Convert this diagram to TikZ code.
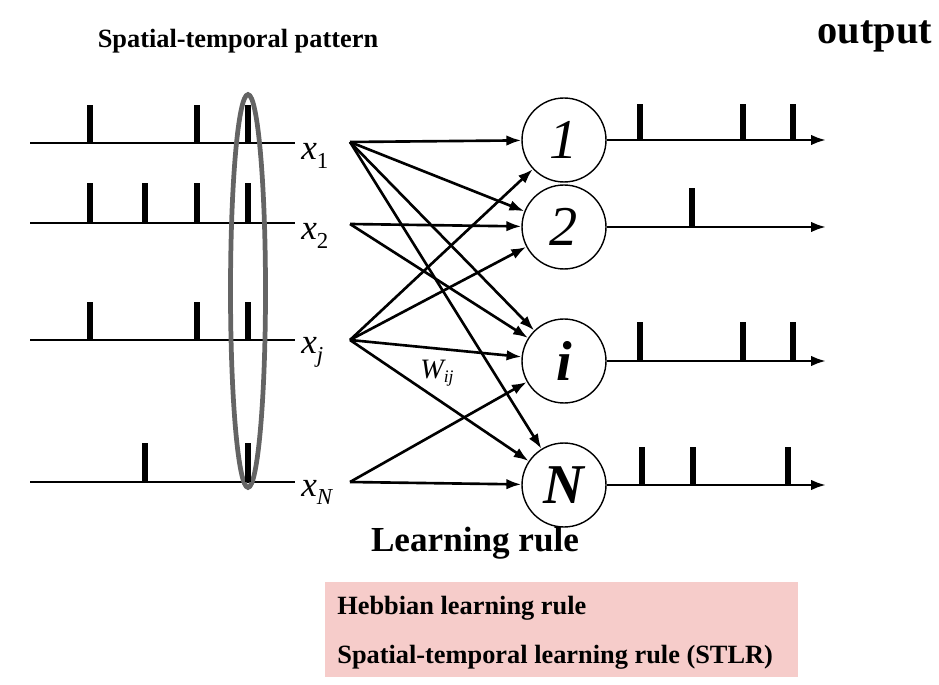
\documentclass[tikz,border=0pt]{standalone}
\usepackage{fontspec}
\setmainfont{Liberation Serif}
\usetikzlibrary{positioning,arrows.meta}
\definecolor{rulepink}{RGB}{246,204,202}
\definecolor{ringgray}{RGB}{100,100,100}
\tikzset{
  iline/.style  = {line width=1.5pt},
  spk/.style    = {line width=2.9pt},
  syn/.style    = {line width=1.5pt, -{Latex[length=8.5pt,width=6pt]}},
  oline/.style  = {line width=1.5pt, -{Latex[length=8.5pt,width=6pt]}},
  nrn/.style    = {circle, draw, line width=0.8pt, minimum size=1.68cm,
                   inner sep=0pt, font=\fontsize{32}{36}\selectfont\itshape},
  ring/.style   = {draw=ringgray, line width=2.7pt},
  xlbl/.style   = {anchor=base west, inner sep=0pt,
                   font=\fontsize{20}{24}\selectfont\itshape},
  ttl/.style    = {inner sep=0pt, font=\fontsize{15}{18}\selectfont\bfseries},
  otl/.style    = {inner sep=0pt, font=\fontsize{23}{28}\selectfont\bfseries},
  lrn/.style    = {inner sep=0pt, font=\fontsize{20}{24}\selectfont\bfseries},
  rbox/.style   = {fill=rulepink, inner sep=0pt, minimum width=9.46cm,
                   minimum height=1.9cm},
  rtxt/.style   = {anchor=west, inner sep=0pt,
                   font=\fontsize{15}{18}\selectfont\bfseries},
  wlbl/.style   = {inner sep=0pt, font=\fontsize{16}{18}\selectfont\itshape},
}
\newcommand{\xsub}[1]{x\raisebox{-0.55ex}{\fontsize{13}{14}\selectfont #1}}

\begin{document}
\begin{tikzpicture}[x=0.02cm, y=-0.02cm]
  \useasboundingbox (0,0) rectangle (939,685);
  % titles
  \node[ttl] (pat) at (238,41) {Spatial-temporal pattern};
  \node[otl] (out) at (875,36) {output};
  % input spike trains
  \coordinate (a1) at (30,143);  \coordinate (b1) at (295,143);
  \coordinate (a2) at (30,223);  \coordinate (b2) at (295,223);
  \coordinate (aj) at (30,340);  \coordinate (bj) at (295,340);
  \coordinate (aN) at (30,482);  \coordinate (bN) at (295,482);
  \draw[iline] (a1)--(b1) (a2)--(b2) (aj)--(bj) (aN)--(bN);
  \draw[ring] (248,291) ellipse [x radius=0.35cm, y radius=3.93cm];
  \draw[spk] (90,143)--++(0,-38) (197,143)--++(0,-38) (248,143)--++(0,-38);
  \draw[spk] (90,223)--++(0,-40) (145,223)--++(0,-40) (197,223)--++(0,-40)
             (248,223)--++(0,-40);
  \draw[spk] (90,340)--++(0,-38) (197,340)--++(0,-38) (248,340)--++(0,-38);
  \draw[spk] (145,482)--++(0,-39) (248,482)--++(0,-39);
  \node[xlbl] (x1) at (301,160) {\xsub{\upshape 1}};
  \node[xlbl] (x2) at (301,240) {\xsub{\upshape 2}};
  \node[xlbl] (xj) at (301,354) {\xsub{j}};
  \node[xlbl] (xN) at (301,496) {\xsub{N}};
  % neurons
  \node[nrn] (n1) at (564,140) {1};
  \node[nrn] (n2) at (564,227) {2};
  \node[nrn, font=\fontsize{32}{36}\selectfont\bfseries\itshape] (ni) at (564,361) {i};
  \node[nrn, font=\fontsize{32}{36}\selectfont\bfseries\itshape] (nN) at (564,485) {N};
  % synapses
  \coordinate (s1) at (350,142);
  \coordinate (s2) at (350,224);
  \coordinate (sj) at (350,340);
  \coordinate (sN) at (350,482);
  \draw[syn] (s1) -- (n1);
  \draw[syn] (s1) -- (n2);
  \draw[syn] (s1) -- (ni);
  \draw[syn] (s1) -- (nN);
  \draw[syn] (s2) -- (n2);
  \draw[syn] (s2) -- (ni);
  \draw[syn] (sj) -- (n1);
  \draw[syn] (sj) -- (n2);
  \draw[syn] (sj) -- (ni);
  \draw[syn] (sj) -- (nN);
  \draw[syn] (sN) -- (ni);
  \draw[syn] (sN) -- (nN);
  \node[wlbl] (w) at (437,373) {W\raisebox{-0.3ex}{\fontsize{10}{11}\selectfont ij}};
  % output spike trains
  \coordinate (o1) at (826,140);
  \coordinate (o2) at (826,227);
  \coordinate (oi) at (826,361);
  \coordinate (oN) at (826,485);
  \draw[oline] (n1) -- (o1);
  \draw[oline] (n2) -- (o2);
  \draw[oline] (ni) -- (oi);
  \draw[oline] (nN) -- (oN);
  \draw[spk] (640,140)--++(0,-36) (743,140)--++(0,-36) (793,140)--++(0,-36);
  \draw[spk] (692,227)--++(0,-39);
  \draw[spk] (640,361)--++(0,-39) (743,361)--++(0,-39) (793,361)--++(0,-39);
  \draw[spk] (642,485)--++(0,-38) (693,485)--++(0,-38) (788,485)--++(0,-38);
  % learning rule
  \node[lrn] (lr) at (475,543) {Learning rule};
  \node[rbox] (rules) at (561.5,629.5) {};
  \node[rtxt] (hebb) at (337,608) {Hebbian learning rule};
  \node[rtxt] (stlr) at (337,657) {Spatial-temporal learning rule (STLR)};
\end{tikzpicture}
\end{document}
